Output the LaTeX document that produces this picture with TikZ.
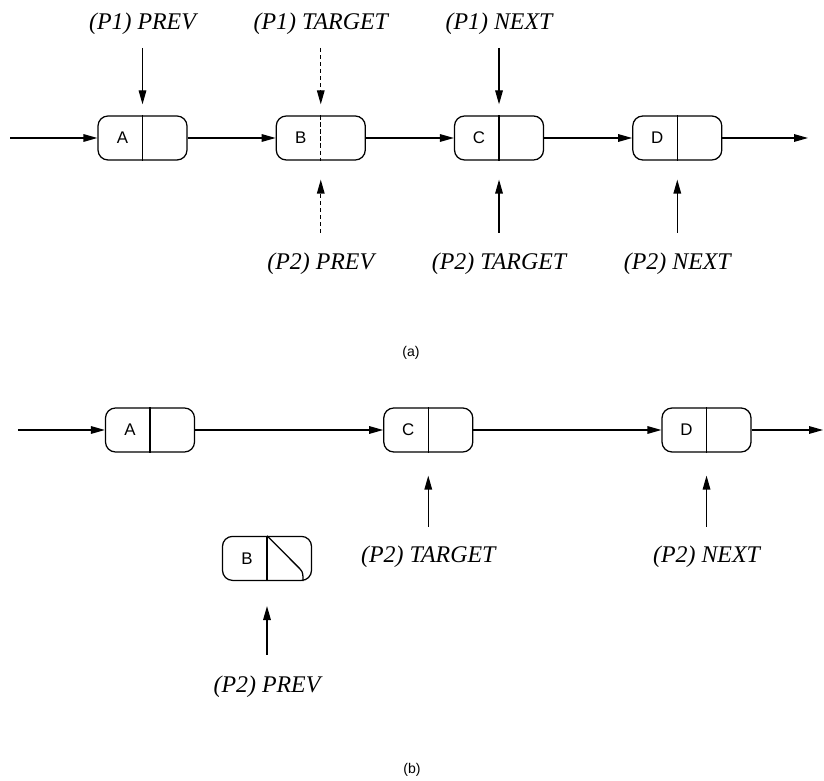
\documentclass[tikz,border=0pt]{standalone}
\usepackage{fontspec}
\setmainfont{Liberation Serif}
\newfontfamily\letrafont{Liberation Sans}
\usetikzlibrary{arrows.meta,positioning}

\begin{document}
\begin{tikzpicture}[
cell/.style={draw,rounded corners=2.5mm,minimum width=2.225cm,minimum height=1.1cm,line width=0.9pt,
  label={[letra,xshift=-5mm]center:#1}},
letra/.style={font=\letrafont\fontsize{12}{14}\selectfont,inner sep=0pt},
lbl/.style={font=\itshape\fontsize{17}{20}\selectfont,inner sep=0pt,anchor=base},
panel/.style={font=\letrafont\fontsize{10}{12}\selectfont},
arr/.style={-{Triangle[length=3.5mm,width=1.9mm]},line width=0.9pt},
divisor/.style={line width=0.9pt}
]
\useasboundingbox (0,0) rectangle (20.6,-19.525);

% (a)
\node[cell=A] (A) at (3.5625,-3.45) {};
\node[cell=B,right=2.2cm of A] (B) {};
\node[cell=C,right=2.2cm of B] (C) {};
\node[cell=D,right=2.2cm of C] (D) {};
\coordinate (ina) at (0.25,-3.45);
\coordinate (outa) at (20.2,-3.45);

\draw[divisor] (A.north) -- (A.south);
\draw[divisor,densely dashed] (B.north) -- (B.south);
\draw[divisor] (C.north) -- (C.south);
\draw[divisor] (D.north) -- (D.south);

\draw[arr] (ina) -- (A);
\draw[arr] (A) -- (B);
\draw[arr] (B) -- (C);
\draw[arr] (C) -- (D);
\draw[arr] (D) -- (outa);

\node[lbl] (p1prev) at (A |- 0,-0.75) {(P1) PREV};
\node[lbl] (p1target) at (B |- 0,-0.75) {(P1) TARGET};
\node[lbl] (p1next) at (C |- 0,-0.75) {(P1) NEXT};
\node[lbl] (p2prev) at (B |- 0,-6.75) {(P2) PREV};
\node[lbl] (p2target) at (C |- 0,-6.75) {(P2) TARGET};
\node[lbl] (p2next) at (D |- 0,-6.75) {(P2) NEXT};

\draw[arr,shorten <=4.5mm,shorten >=2.75mm] (p1prev.base) -- (A.north);
\draw[arr,densely dashed,shorten <=4.5mm,shorten >=2.75mm] (p1target.base) -- (B.north);
\draw[arr,shorten <=4.5mm,shorten >=2.75mm] (p1next.base) -- (C.north);
\draw[arr,densely dashed,shorten <=9.25mm,shorten >=4.75mm] (p2prev.base) -- (B.south);
\draw[arr,shorten <=9.25mm,shorten >=4.75mm] (p2target.base) -- (C.south);
\draw[arr,shorten <=9.25mm,shorten >=4.75mm] (p2next.base) -- (D.south);

\node[panel] (capa) at (10.275,-8.825) {(a)};

% (b)
\node[cell=A] (A2) at (3.75,-10.75) {};
\node[cell=C,right=4.7cm of A2] (C2) {};
\node[cell=D,right=4.7cm of C2] (D2) {};
\node[cell=B] (B2) at (6.675,-13.96) {};
\coordinate (inb) at (0.45,-10.75);
\coordinate (outb) at (20.575,-10.75);

\draw[divisor] (A2.north) -- (A2.south);
\draw[divisor] (C2.north) -- (C2.south);
\draw[divisor] (D2.north) -- (D2.south);
\draw[divisor] (B2.north) -- (B2.south);
\draw[divisor] (B2.north) -- ([xshift=-3mm,yshift=3mm]B2.south east)
  to[out=-45,in=90] ([xshift=-2.3mm]B2.south east);

\draw[arr] (inb) -- (A2);
\draw[arr] (A2) -- (C2);
\draw[arr] (C2) -- (D2);
\draw[arr] (D2) -- (outb);

\node[lbl] (q2target) at (C2 |- 0,-14.075) {(P2) TARGET};
\node[lbl] (q2next) at (D2 |- 0,-14.075) {(P2) NEXT};
\node[lbl] (q2prev) at (B2 |- 0,-17.325) {(P2) PREV};

\draw[arr,shorten <=9mm,shorten >=5.75mm] (q2target.base) -- (C2.south);
\draw[arr,shorten <=9mm,shorten >=5.75mm] (q2next.base) -- (D2.south);
\draw[arr,shorten <=9.5mm,shorten >=6.25mm] (q2prev.base) -- (B2.south);

\node[panel] (capb) at (10.3,-19.25) {(b)};
\end{tikzpicture}
\end{document}
